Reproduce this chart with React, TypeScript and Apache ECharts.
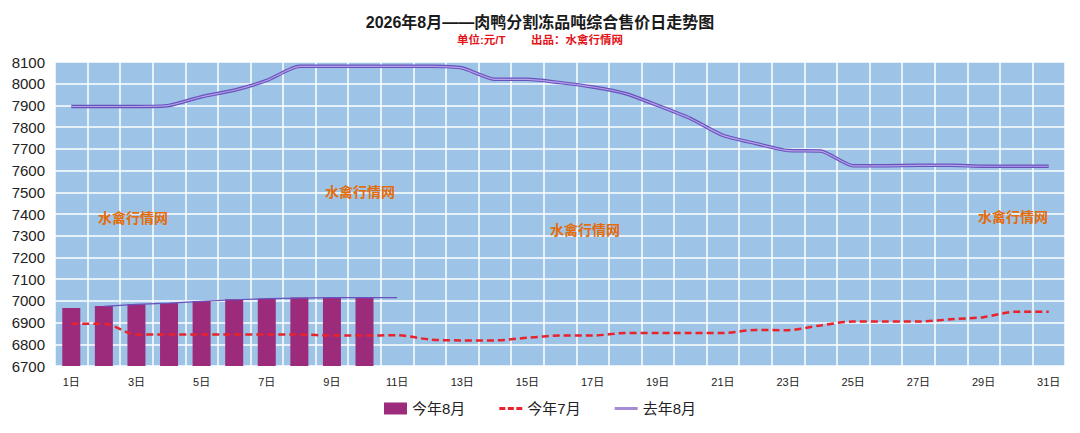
import React, { useEffect, useRef } from "react";
import * as echarts from "echarts";

const days = Array.from({ length: 31 }, (_, i) => `${i + 1}日`);

// 今年8月 (bars, first 10 days)
const thisAug = [6967, 6976, 6984, 6990, 6999, 7007, 7010, 7015, 7015, 7015];
// thin purple trace over the bars (offset copy in the source chart)
const thisAugTrace = [null, 6975, 6984, 6990, 6998, 7005, 7010, 7013, 7015, 7015, 7015];
// 今年7月
const thisJul = [
  6895, 6895, 6845, 6845, 6845, 6845, 6845, 6845, 6840, 6840, 6842, 6822, 6818, 6818, 6830, 6840,
  6840, 6852, 6852, 6852, 6852, 6866, 6865, 6887, 6905, 6905, 6905, 6915, 6925, 6950, 6950,
];
// 去年8月
const lastAug = [
  7895, 7895, 7895, 7900, 7940, 7970, 8015, 8080, 8080, 8080, 8080, 8080, 8072, 8020, 8020, 8005,
  7985, 7955, 7900, 7840, 7762, 7725, 7692, 7690, 7622, 7622, 7624, 7624, 7620, 7620, 7620,
];

const yTicks = { min: 6700, max: 8100, interval: 100 };

const marks = [
  { text: "水禽行情网", x: 133, y: 218 },
  { text: "水禽行情网", x: 360, y: 192 },
  { text: "水禽行情网", x: 585, y: 230 },
  { text: "水禽行情网", x: 1013, y: 217 },
];

export default function App() {
  const ref = useRef<HTMLDivElement>(null);
  useEffect(() => {
    if (!ref.current) return;
    document.body.style.margin = "0";
    const chart = echarts.init(ref.current, null, { renderer: "svg" });
    const font = "'Liberation Sans', Arial, 'Noto Sans CJK SC', sans-serif";
    chart.setOption({
      animation: false,
      backgroundColor: "#ffffff",
      textStyle: { fontFamily: font },
      title: {
        text: "2026年8月——肉鸭分割冻品吨综合售价日走势图",
        subtext: "单位:元/T        出品：水禽行情网",
        left: "center",
        top: 9,
        itemGap: 4,
        textStyle: { fontSize: 16, fontWeight: "bold", color: "#1a1a1a", fontFamily: font },
        subtextStyle: { fontSize: 11.5, fontWeight: "bold", color: "#e3151b", fontFamily: font },
      },
      graphic: marks.map((m) => ({
        type: "text",
        x: m.x,
        y: m.y,
        z: 1,
        style: {
          text: m.text,
          fill: "#e46c0a",
          font: `bold 14px ${font}`,
          textAlign: "center",
          textVerticalAlign: "middle",
        },
      })),
      legend: {
        bottom: 12,
        left: "center",
        itemWidth: 23,
        itemHeight: 12,
        itemGap: 34,
        textStyle: { fontSize: 15, color: "#222" },
        data: [
          { name: "今年8月", icon: "rect" },
          {
            name: "今年7月",
            icon: "path://M0,0h6v3h-6z M8.5,0h6v3h-6z M17,0h6v3h-6z",
            itemStyle: { color: "#e8232b" },
          },
          {
            name: "去年8月",
            icon: "path://M0,0h23v3h-23z",
            itemStyle: { color: "#a58bd8" },
          },
        ],
      },
      grid: {
        left: 55,
        right: 15,
        top: 62,
        bottom: 67,
        show: true,
        backgroundColor: "#9dc3e6",
        borderWidth: 0,
      },
      xAxis: {
        type: "category",
        data: days,
        boundaryGap: true,
        axisLine: { show: false },
        axisTick: { show: false },
        axisLabel: { interval: 1, fontSize: 11, color: "#222", margin: 10 },
        splitLine: { show: true, interval: 0, lineStyle: { color: "#ffffff", width: 1.5 } },
      },
      yAxis: {
        type: "value",
        min: yTicks.min,
        max: yTicks.max,
        interval: yTicks.interval,
        axisLine: { show: false },
        axisTick: { show: false },
        axisLabel: { fontSize: 15, color: "#222", margin: 10, formatter: (v: number) => String(v) },
        splitLine: { lineStyle: { color: "#ffffff", width: 1.5 } },
      },
      series: [
        {
          name: "今年8月",
          type: "bar",
          data: thisAug,
          barWidth: 18,
          itemStyle: { color: "#9c2b7c" },
          z: 2,
        },
        {
          name: "今年7月",
          type: "line",
          data: thisJul,
          smooth: 0.3,
          symbol: "none",
          lineStyle: { color: "#e8232b", width: 2.5, type: [7, 4] },
          itemStyle: { color: "#e8232b" },
          z: 4,
        },
        {
          name: "去年8月",
          type: "line",
          data: lastAug,
          smooth: 0.2,
          symbol: "none",
          lineStyle: { color: "#6a52bd", width: 3.5 },
          itemStyle: { color: "#6a52bd" },
          z: 5,
        },
        {
          name: "去年8月内线",
          type: "line",
          data: lastAug,
          smooth: 0.2,
          symbol: "none",
          lineStyle: { color: "#b4a2ea", width: 1.2 },
          z: 6,
        },
        {
          name: "今年8月线",
          type: "line",
          data: thisAugTrace,
          symbol: "none",
          lineStyle: { color: "#6a52bd", width: 1.2 },
          z: 5,
        },
      ],
    });
    const onResize = () => chart.resize();
    window.addEventListener("resize", onResize);
    return () => {
      window.removeEventListener("resize", onResize);
      chart.dispose();
    };
  }, []);
  return <div ref={ref} style={{ width: 1080, height: 433 }} />;
}
